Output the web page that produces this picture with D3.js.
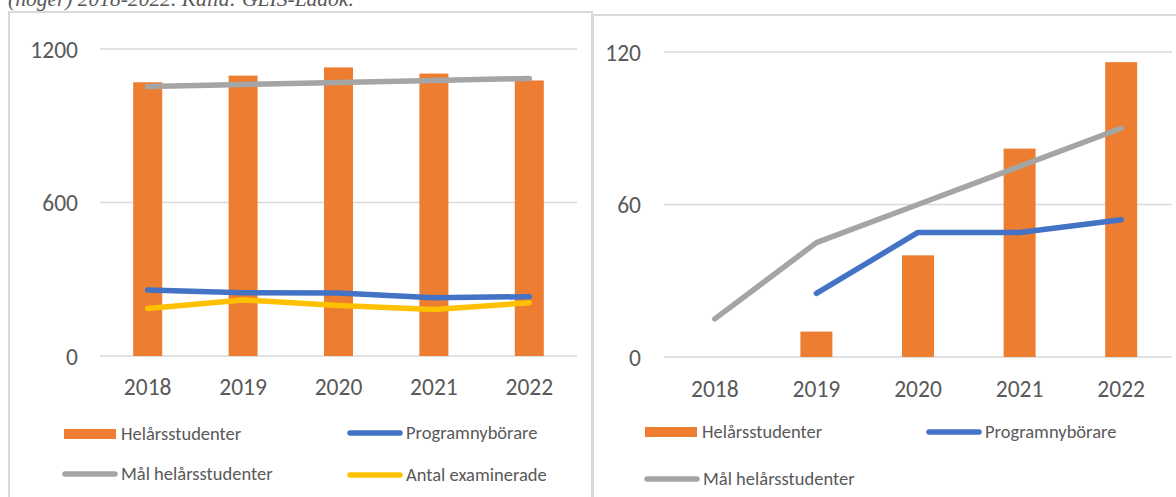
<!DOCTYPE html>
<html>
<head>
<meta charset="utf-8">
<script src="https://cdn.jsdelivr.net/npm/d3@7"></script>
<style>
  html, body { margin: 0; padding: 0; background: #fff; }
  svg { display: block; }
  text { font-family: Carlito, "Open Sans", sans-serif; }
</style>
</head>
<body>
<svg id="chart" width="1176" height="497"></svg>
<script>
// ---------- data ----------
const years = ["2018", "2019", "2020", "2021", "2022"];

// left chart
const leftHelarsstudenter = [1070, 1096, 1128, 1104, 1077];
const leftProgramnyborare = [258, 247, 246, 228, 232];
const leftMalHelarsstudenter = [1053, 1061, 1069, 1077, 1085];
const leftAntalExaminerade = [186, 219, 197, 182, 208];
const leftTicks = [0, 600, 1200];

// right chart
const rightHelarsstudenter = [null, 10, 40, 82, 116];
const rightProgramnyborare = [null, 25, 49, 49, 54];
const rightMalHelarsstudenter = [15, 45, 60, 75, 90];
const rightTicks = [0, 60, 120];

const captionText = "(höger) 2018-2022. Källa: GLIS-Ladok.";

// ---------- styles ----------
const C = {
  orange: "#ED7D31", blue: "#4472C4", gray: "#A5A5A5", yellow: "#FFC000",
  grid: "#D9D9D9", text: "#595959", frame: "#D9D9D9"
};
const TICK_FONT = "23.5px";
const LEGEND_FONT = "18.5px";

const svg = d3.select("#chart");

// caption (cut off at top, as in the source page)
svg.append("text")
  .attr("x", 8).attr("y", 6)
  .style("font-family", "'Liberation Serif', 'DejaVu Serif', serif")
  .style("font-style", "italic")
  .style("font-size", "21.5px")
  .attr("fill", C.text)
  .text(captionText);

function drawChart(cfg) {
  const g = svg.append("g");
  // frame
  g.append("rect")
    .attr("x", cfg.frame.x).attr("y", cfg.frame.y)
    .attr("width", cfg.frame.w).attr("height", cfg.frame.h)
    .attr("fill", "none").attr("stroke", C.frame).attr("stroke-width", 2);

  const x = d3.scaleBand().domain(years).range([cfg.plot.x0, cfg.plot.x1]).paddingInner(0).paddingOuter(0);
  const y = d3.scaleLinear().domain([0, cfg.ticks[cfg.ticks.length - 1]]).range([cfg.plot.y0, cfg.plot.y1]);

  // gridlines
  g.append("g").selectAll("line").data(cfg.ticks).join("line")
    .attr("x1", cfg.plot.x0).attr("x2", cfg.plot.x1)
    .attr("y1", d => y(d)).attr("y2", d => y(d))
    .attr("stroke", C.grid).attr("stroke-width", 1.5);

  // y axis labels
  const yAxis = d3.axisLeft(y).tickValues(cfg.ticks).tickFormat(d3.format("d")).tickSize(0).tickPadding(0);
  const ya = g.append("g").attr("transform", `translate(${cfg.yLabelX},0)`).call(yAxis);
  ya.select(".domain").remove();
  ya.selectAll("text").attr("fill", C.text).style("font-size", TICK_FONT)
    .style("font-family", "Carlito, 'Open Sans', sans-serif").attr("dy", "0.35em");

  // x axis labels
  const xAxis = d3.axisBottom(x).tickSize(0).tickPadding(0);
  const xa = g.append("g").attr("transform", `translate(0,${cfg.xLabelY})`).call(xAxis);
  xa.select(".domain").remove();
  xa.selectAll("text").attr("fill", C.text).style("font-size", TICK_FONT)
    .style("font-family", "Carlito, 'Open Sans', sans-serif").attr("dy", "0.35em");

  // bars
  const bw = cfg.barWidth;
  g.append("g").selectAll("rect")
    .data(years.map((yr, i) => ({ yr, v: cfg.bars[i] })).filter(d => d.v != null))
    .join("rect")
    .attr("x", d => x(d.yr) + x.bandwidth() / 2 - bw / 2)
    .attr("width", bw)
    .attr("y", d => y(d.v))
    .attr("height", d => y(0) - y(d.v))
    .attr("fill", C.orange);

  // lines
  const line = d3.line()
    .defined(d => d.v != null)
    .x(d => x(d.yr) + x.bandwidth() / 2)
    .y(d => y(d.v));
  cfg.lines.forEach(L => {
    g.append("path")
      .datum(years.map((yr, i) => ({ yr, v: L.values[i] })))
      .attr("d", line)
      .attr("fill", "none")
      .attr("stroke", L.color)
      .attr("stroke-width", 5.5)
      .attr("stroke-linecap", "round")
      .attr("stroke-linejoin", "round");
  });

  // legend
  cfg.legend.forEach(item => {
    const lg = g.append("g");
    if (item.type === "bar") {
      lg.append("rect").attr("x", item.x).attr("y", item.y - 5)
        .attr("width", 52).attr("height", 10).attr("fill", item.color);
      lg.append("text").attr("x", item.x + 57).attr("y", item.y).attr("dy", "0.35em")
        .attr("fill", C.text).style("font-size", LEGEND_FONT).text(item.label);
    } else {
      lg.append("line").attr("x1", item.x + 3).attr("x2", item.x + 53)
        .attr("y1", item.y).attr("y2", item.y)
        .attr("stroke", item.color).attr("stroke-width", 5.5).attr("stroke-linecap", "round");
      lg.append("text").attr("x", item.x + 59).attr("y", item.y).attr("dy", "0.35em")
        .attr("fill", C.text).style("font-size", LEGEND_FONT).text(item.label);
    }
  });
}

drawChart({
  frame: { x: 9, y: 12, w: 583, h: 500 },
  plot: { x0: 100, x1: 577, y0: 356, y1: 49 },
  ticks: leftTicks,
  yLabelX: 78,
  xLabelY: 387,
  barWidth: 29,
  bars: leftHelarsstudenter,
  lines: [
    { values: leftMalHelarsstudenter, color: C.gray },
    { values: leftProgramnyborare, color: C.blue },
    { values: leftAntalExaminerade, color: C.yellow }
  ],
  legend: [
    { type: "bar", x: 64, y: 434, color: C.orange, label: "Helårsstudenter" },
    { type: "line", x: 62, y: 474, color: C.gray, label: "Mål helårsstudenter" },
    { type: "line", x: 347, y: 433, color: C.blue, label: "Programnybörare" },
    { type: "line", x: 347, y: 475, color: C.yellow, label: "Antal examinerade" }
  ]
});

drawChart({
  frame: { x: 593, y: 15, w: 600, h: 500 },
  plot: { x0: 664, x1: 1172, y0: 357, y1: 52 },
  ticks: rightTicks,
  yLabelX: 641,
  xLabelY: 389,
  barWidth: 32,
  bars: rightHelarsstudenter,
  lines: [
    { values: rightMalHelarsstudenter, color: C.gray },
    { values: rightProgramnyborare, color: C.blue }
  ],
  legend: [
    { type: "bar", x: 645, y: 432, color: C.orange, label: "Helårsstudenter" },
    { type: "line", x: 644, y: 479, color: C.gray, label: "Mål helårsstudenter" },
    { type: "line", x: 926, y: 432, color: C.blue, label: "Programnybörare" }
  ]
});
</script>
</body>
</html>
